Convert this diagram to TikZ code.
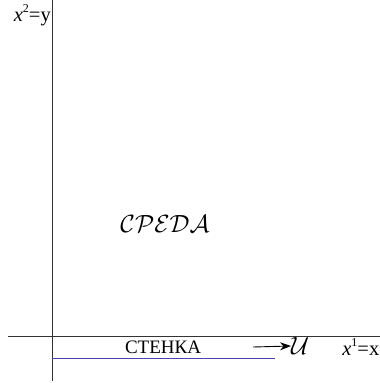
\documentclass[tikz,border=0pt]{standalone}
\usepackage{fontspec}
\setmainfont{Liberation Serif}
\usetikzlibrary{arrows.meta}
\newcommand{\supx}[1]{\textit{x}\raisebox{0.42em}{\fontsize{12}{13}\selectfont #1}}
\begin{document}
\begin{tikzpicture}[x=1pt,y=-1pt,
  axis/.style={line width=0.9pt,black!80},
  lbl/.style={font=\fontsize{19}{21}\selectfont, inner sep=0pt},
  ax/.style={font=\fontsize{20.5}{22}\selectfont, inner sep=0pt},
  scr/.style={font=\fontsize{30}{32}\selectfont, inner sep=0pt}]
\useasboundingbox (0,0) rectangle (380,383);
\coordinate (vt) at (52,0);
\coordinate (vb) at (52,381);
\coordinate (hl) at (8,336);
\coordinate (hr) at (380,336);
\coordinate (bl) at (52,358);
\coordinate (br) at (275,358);
\draw[axis] (vt) -- (vb);
\draw[axis] (hl) -- (hr);
\draw[line width=0.9pt,color={rgb,255:red,70;green,70;blue,170}] (bl) -- (br);
\node[lbl] (wall) at (163,347) {СТЕНКА};
\coordinate (as) at (253,347);
\node[font=\fontsize{23}{25}\selectfont,inner sep=0pt,anchor=west] (U) at (291,346) {$\mathcal{U}$};
\draw[line width=0.9pt,-{Stealth[length=11pt,width=8pt]}] (as) -- (U.west);
\node[ax,anchor=base east] (x1) at (379.5,355) {\supx{1}=x};
\node[ax,anchor=base east] (x2) at (51,21) {\supx{2}=y};
\node[scr] (med) at (165,224) {$\mathcal{CPEDA}$};
\end{tikzpicture}
\end{document}
